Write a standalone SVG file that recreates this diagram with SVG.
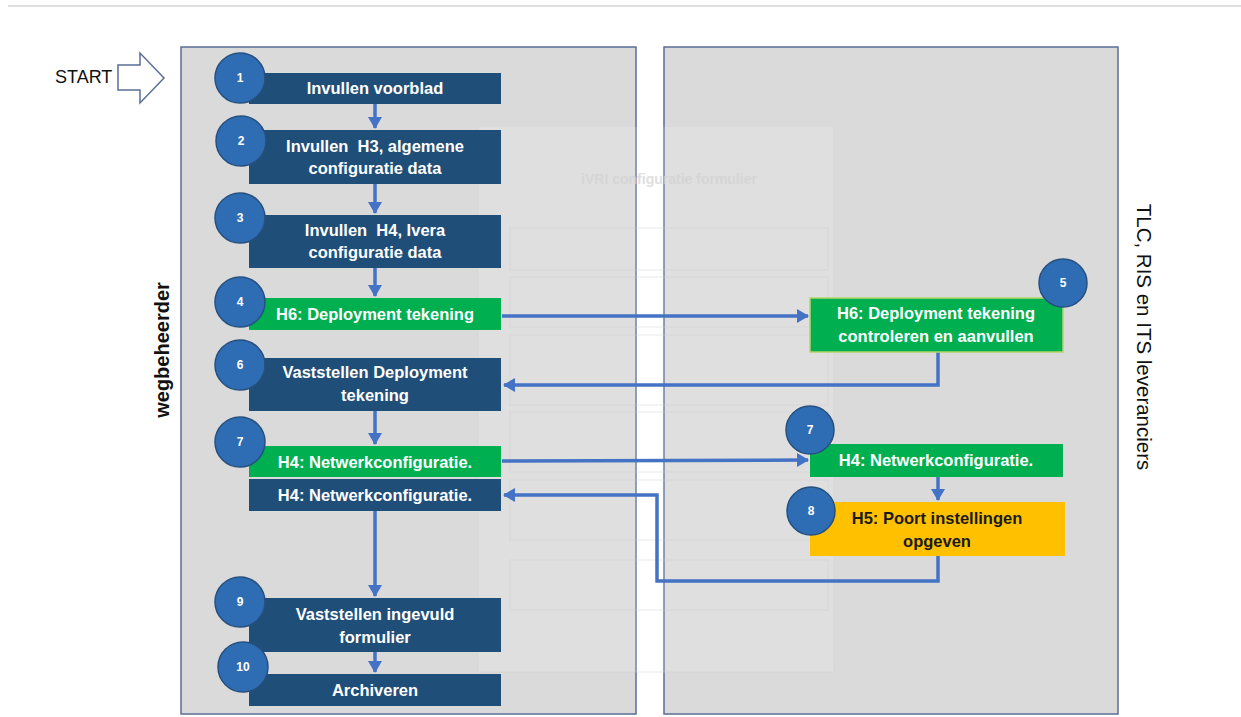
<svg xmlns="http://www.w3.org/2000/svg" width="1241" height="717" viewBox="0 0 1241 717">
<defs>
<style>
.panel{fill:#dadada;stroke:#5a6e96;stroke-width:1.5}
.dark{fill:#1f4e79}
.green{fill:#00b050}
.yellow{fill:#ffc000}
.circ{fill:#2e6db4;stroke:#27507f;stroke-width:1.5}
.num{font-family:"Liberation Sans",Arial,sans-serif;font-size:12px;font-weight:bold;fill:#ffffff;text-anchor:middle}
.lbl{font-family:"Liberation Sans",Arial,sans-serif;font-size:16.5px;font-weight:bold;fill:#ffffff;text-anchor:middle}
.lbld{font-family:"Liberation Sans",Arial,sans-serif;font-size:16.5px;font-weight:bold;fill:#1a1a1a;text-anchor:middle}
.conn{fill:none;stroke:#4472c4;stroke-width:3.5;marker-end:url(#ah)}
.form{fill:#ffffff;opacity:0.14}
.fl{stroke:#cccccc;stroke-width:1;fill:none;opacity:0.45}
</style>
<marker id="ah" markerUnits="userSpaceOnUse" markerWidth="12" markerHeight="14" refX="11" refY="7" orient="auto">
<path d="M0,0 L12,7 L0,14 z" fill="#4472c4"/>
</marker>
</defs>
<rect width="1241" height="717" fill="#ffffff"/>
<line x1="8" y1="6" x2="1241" y2="6" stroke="#d4d4d4" stroke-width="1.5"/>

<g id="start">
<text x="55" y="83" font-family="Liberation Sans,Arial,sans-serif" font-size="18" fill="#111">START</text>
<path d="M118,65 H140 V53 L164,78 L140,103 V90 H118 Z" fill="#ffffff" stroke="#5a6e96" stroke-width="1.5"/>
</g>

<g id="lane-wegbeheerder">
<rect class="panel" x="181" y="47" width="455" height="667"/>
<text transform="translate(169,350) rotate(-90)" text-anchor="middle" font-family="Liberation Sans,Arial,sans-serif" font-size="20" font-weight="bold" fill="#111">wegbeheerder</text>
</g>
<g id="lane-leveranciers">
<rect class="panel" x="664" y="47" width="454" height="667"/>
<text transform="translate(1137,337) rotate(90)" text-anchor="middle" font-family="Liberation Sans,Arial,sans-serif" font-size="20.5" fill="#111">TLC, RIS en ITS leveranciers</text>
</g>

<g id="form-background">
<rect class="form" x="478" y="127" width="356" height="545"/>
<text x="669" y="184" text-anchor="middle" font-family="Liberation Sans,Arial,sans-serif" font-size="14" font-weight="bold" fill="#d2d2d2" opacity="0.7">iVRI configuratie formulier</text>
<rect class="fl" x="510" y="228" width="318" height="42"/>
<rect class="fl" x="510" y="277" width="318" height="50"/>
<rect class="fl" x="510" y="335" width="318" height="70"/>
<rect class="fl" x="510" y="412" width="318" height="60"/>
<rect class="fl" x="510" y="480" width="318" height="60"/>
<rect class="fl" x="510" y="560" width="318" height="50"/>
<line class="fl" x1="478" y1="127" x2="478" y2="672"/>
<line class="fl" x1="478" y1="672" x2="834" y2="672"/>
<line class="fl" x1="834" y1="127" x2="834" y2="672"/>
</g>

<g id="connectors">
<line class="conn" x1="375" y1="104" x2="375" y2="128"/>
<line class="conn" x1="375" y1="184" x2="375" y2="213"/>
<line class="conn" x1="375" y1="268" x2="375" y2="296"/>
<line class="conn" x1="502" y1="316" x2="808" y2="316"/>
<polyline class="conn" points="938,352 938,385 504,385"/>
<line class="conn" x1="375" y1="411" x2="375" y2="444"/>
<line class="conn" x1="502" y1="461" x2="808" y2="460"/>
<line class="conn" x1="938" y1="477" x2="938" y2="500"/>
<polyline class="conn" points="938,556 938,581 657,581 657,495 504,495"/>
<line class="conn" x1="375" y1="511" x2="375" y2="596"/>
<line class="conn" x1="375" y1="652" x2="375" y2="672"/>
</g>

<g id="node-1">
<rect class="dark" x="249" y="73" width="252" height="31"/>
<circle class="circ" cx="240" cy="78" r="25"/>
<text class="num" x="240" y="82">1</text>
<text class="lbl" x="375" y="94">Invullen voorblad</text>
</g>
<g id="node-2">
<rect class="dark" x="249" y="130" width="252" height="54"/>
<circle class="circ" cx="241" cy="141" r="25"/>
<text class="num" x="241" y="145">2</text>
<text class="lbl" x="375" y="152" xml:space="preserve">Invullen  H3, algemene</text>
<text class="lbl" x="375" y="174">configuratie data</text>
</g>
<g id="node-3">
<rect class="dark" x="249" y="215" width="252" height="53"/>
<circle class="circ" cx="240" cy="218" r="25"/>
<text class="num" x="240" y="222">3</text>
<text class="lbl" x="375" y="236" xml:space="preserve">Invullen  H4, Ivera</text>
<text class="lbl" x="375" y="258">configuratie data</text>
</g>
<g id="node-4">
<rect class="green" x="249" y="298" width="252" height="32"/>
<circle class="circ" cx="240" cy="302" r="25"/>
<text class="num" x="240" y="306">4</text>
<text class="lbl" x="375" y="320">H6: Deployment tekening</text>
</g>
<g id="node-5">
<rect class="green" x="810" y="298" width="253" height="54" stroke="#b5d56a" stroke-width="1.5"/>
<circle class="circ" cx="1063" cy="283" r="24"/>
<text class="num" x="1063" y="287">5</text>
<text class="lbl" x="936" y="319">H6: Deployment tekening</text>
<text class="lbl" x="936" y="342">controleren en aanvullen</text>
</g>
<g id="node-6">
<rect class="dark" x="249" y="358" width="252" height="53"/>
<circle class="circ" cx="240" cy="365" r="25"/>
<text class="num" x="240" y="369">6</text>
<text class="lbl" x="375" y="378">Vaststellen Deployment</text>
<text class="lbl" x="375" y="401">tekening</text>
</g>
<g id="node-7-left">
<rect class="green" x="249" y="446" width="252" height="31"/>
<circle class="circ" cx="240" cy="442" r="25"/>
<text class="num" x="240" y="446">7</text>
<text class="lbl" x="375" y="468">H4: Netwerkconfiguratie.</text>
</g>
<g id="node-h4-dark">
<rect class="dark" x="249" y="479" width="252" height="32"/>
<text class="lbl" x="375" y="501">H4: Netwerkconfiguratie.</text>
</g>
<g id="node-7-right">
<rect class="green" x="810" y="444" width="253" height="33"/>
<circle class="circ" cx="810" cy="430" r="24"/>
<text class="num" x="810" y="434">7</text>
<text class="lbl" x="936" y="466">H4: Netwerkconfiguratie.</text>
</g>
<g id="node-8">
<rect class="yellow" x="810" y="502" width="255" height="54"/>
<circle class="circ" cx="811" cy="511" r="24"/>
<text class="num" x="811" y="515">8</text>
<text class="lbld" x="937" y="524">H5: Poort instellingen</text>
<text class="lbld" x="937" y="547">opgeven</text>
</g>
<g id="node-9">
<rect class="dark" x="249" y="598" width="252" height="54"/>
<circle class="circ" cx="240" cy="602" r="25"/>
<text class="num" x="240" y="606">9</text>
<text class="lbl" x="375" y="620">Vaststellen ingevuld</text>
<text class="lbl" x="375" y="643">formulier</text>
</g>
<g id="node-10">
<rect class="dark" x="249" y="674" width="252" height="32"/>
<circle class="circ" cx="243" cy="667" r="25"/>
<text class="num" x="243" y="671">10</text>
<text class="lbl" x="375" y="696">Archiveren</text>
</g>
</svg>
